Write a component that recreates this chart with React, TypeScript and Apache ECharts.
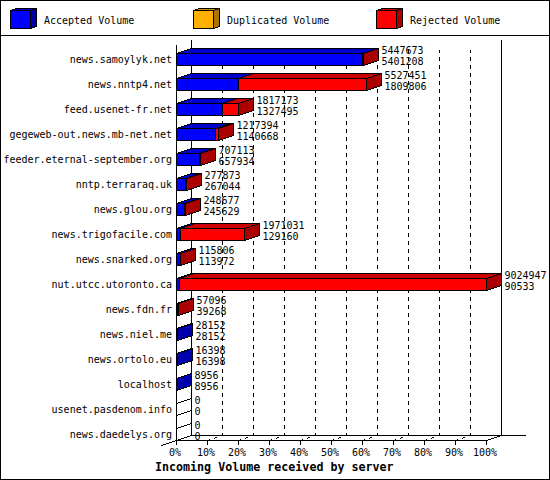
import React, { useEffect, useRef } from "react";
import * as echarts from "echarts";

const servers = [
  "news.samoylyk.net", "news.nntp4.net", "feed.usenet-fr.net", "gegeweb-out.news.mb-net.net",
  "feeder.eternal-september.org", "nntp.terraraq.uk", "news.glou.org", "news.trigofacile.com",
  "news.snarked.org", "nut.utcc.utoronto.ca", "news.fdn.fr", "news.niel.me",
  "news.ortolo.eu", "localhost", "usenet.pasdenom.info", "news.daedelys.org",
];
const totalVolume = [5447673, 5527451, 1817173, 1217394, 707113, 277873, 248677, 1971031, 115806, 9024947, 57096, 28152, 16398, 8956, 0, 0];
const acceptedVolume = [5401208, 1809806, 1327495, 1140668, 657934, 267044, 245629, 129160, 113972, 90533, 39268, 28152, 16398, 8956, 0, 0];
const legendNames = ["Accepted Volume", "Duplicated Volume", "Rejected Volume"];
const percentTicks = [0, 10, 20, 30, 40, 50, 60, 70, 80, 90, 100];
const chartTitle = "Incoming Volume received by server";

const FONT = "'DejaVu Sans Mono', monospace";
const BLUE = { front: "#0000ff", top: "#0000cc", side: "#0000aa" };
const RED = { front: "#ff0000", top: "#cc0000", side: "#aa0000" };
const ORANGE = { front: "#ffb000", top: "#cc8c00", side: "#aa7500" };
const DX = 15;
const DY = 5;
const HALF = 6;
const line = { stroke: "#000", lineWidth: 1 };

function renderBar(_params: any, api: any) {
  const i = api.value(2);
  const x0 = Math.round(api.coord([0, i])[0]) + 0.5;
  const cy = api.coord([0, i])[1] + 2;
  const top = Math.floor(cy - HALF) + 0.5;
  const bottom = top + 12;
  const xa = Math.round(api.coord([api.value(0), i])[0]) + 0.5;
  const xt = Math.round(api.coord([api.value(1), i])[0]) + 0.5;
  const total = api.value(4);
  const acc = api.value(3);
  const sideColor = total > acc ? RED : BLUE;
  const children: any[] = [];
  const poly = (points: number[][], fill: string) => ({
    type: "polygon",
    shape: { points },
    style: { fill, ...line },
  });
  if (total > 0) {
    if (xa > x0) {
      children.push(poly([[x0, top], [x0 + DX, top - DY], [xa + DX, top - DY], [xa, top]], BLUE.top));
      children.push(poly([[x0, top], [xa, top], [xa, bottom], [x0, bottom]], BLUE.front));
    }
    if (xt > xa) {
      children.push(poly([[xa, top], [xa + DX, top - DY], [xt + DX, top - DY], [xt, top]], RED.top));
      children.push(poly([[xa, top], [xt, top], [xt, bottom], [xa, bottom]], RED.front));
    }
    children.push(poly([[xt, top], [xt + DX, top - DY], [xt + DX, bottom - DY], [xt, bottom]], sideColor.side));
  } else {
    children.push({ type: "line", shape: { x1: x0, y1: top, x2: x0 + DX, y2: top - DY }, style: line });
    children.push({ type: "line", shape: { x1: x0, y1: bottom, x2: x0 + DX, y2: bottom - DY }, style: line });
  }
  const label = (value: number, y: number) => ({
    type: "text",
    style: {
      x: xt + DX + 3,
      y,
      text: String(value),
      fill: "#000",
      font: `10px ${FONT}`,
      align: "left",
      verticalAlign: "middle",
    },
  });
  children.push(label(total, top + 6 - 9.5));
  children.push(label(acc, top + 6 + 1.5));
  return { type: "group", children };
}

function cube(x: number, y: number, c: { front: string; top: string; side: string }) {
  const w = 20;
  const h = 18;
  const d = 6;
  const e = 2;
  return [
    { type: "polygon", shape: { points: [[x, y], [x + d, y - e], [x + w + d, y - e], [x + w, y]] }, style: { fill: c.top, ...line } },
    { type: "polygon", shape: { points: [[x + w, y], [x + w + d, y - e], [x + w + d, y + h - e], [x + w, y + h]] }, style: { fill: c.side, ...line } },
    { type: "rect", shape: { x, y, width: w, height: h }, style: { fill: c.front, ...line } },
  ];
}

function frameGraphics() {
  const g: any[] = [];
  g.push({ type: "rect", shape: { x: 0.5, y: 0.5, width: 549, height: 479 }, style: { fill: "none", ...line }, z: 0 });
  g.push({ type: "line", shape: { x1: 0, y1: 35.5, x2: 550, y2: 35.5 }, style: line });
  const legendX = [10.5, 193.5, 376.5];
  const textX = [44, 227, 410];
  const colors = [BLUE, ORANGE, RED];
  legendNames.forEach((name, k) => {
    g.push(...cube(legendX[k], 10.5, colors[k]));
    g.push({
      type: "text",
      style: { x: textX[k], y: 20, text: name, fill: "#000", font: `10px ${FONT}`, verticalAlign: "middle", align: "left" },
    });
  });
  g.push({ type: "line", shape: { x1: 191.5, y1: 40, x2: 191.5, y2: 436 }, style: line });
  g.push({ type: "line", shape: { x1: 501.5, y1: 40, x2: 501.5, y2: 436 }, style: line });
  g.push({ type: "line", shape: { x1: 191.5, y1: 435.5, x2: 525.5, y2: 435.5 }, style: line });
  g.push({ type: "line", shape: { x1: 161.5, y1: 445.5, x2: 191.5, y2: 435.5 }, style: line });
  g.push({ type: "line", shape: { x1: 486.5, y1: 440.5, x2: 501.5, y2: 435.5 }, style: line });
  percentTicks.slice(1, 10).forEach((p) => {
    const x = 176.5 + p * 3.1;
    g.push({
      type: "line",
      shape: { x1: x, y1: 440.5, x2: x + DX, y2: 435.5 },
      style: { ...line, lineDash: [3, 4, 3, 10] },
    });
  });
  return g;
}

export default function App() {
  const ref = useRef<HTMLDivElement>(null);
  useEffect(() => {
    const chart = echarts.init(ref.current!, undefined, { renderer: "svg", width: 550, height: 480 });
    const maxVolume = Math.max(...totalVolume);
    const rows = servers.map((_, i) => [
      (acceptedVolume[i] / maxVolume) * 100,
      (totalVolume[i] / maxVolume) * 100,
      i,
      acceptedVolume[i],
      totalVolume[i],
    ]);
    chart.setOption({
      animation: false,
      backgroundColor: "#fff",
      title: {
        text: chartTitle,
        left: 155,
        top: 461,
        padding: 0,
        textStyle: { fontFamily: FONT, fontWeight: "bold", fontSize: 11.66, color: "#000" },
      },
      grid: [
        { left: 176, top: 45, width: 310, height: 400 },
        { left: 191, top: 50, width: 310, height: 385.5 },
      ],
      xAxis: [
        {
          type: "value",
          gridIndex: 0,
          min: 0,
          max: 100,
          interval: 10,
          offset: -5,
          axisLine: { show: true, onZero: false, lineStyle: { color: "#000", width: 1 } },
          axisTick: { show: true, length: 5, lineStyle: { color: "#000", width: 1 } },
          axisLabel: {
            color: "#000",
            fontFamily: FONT,
            fontSize: 10,
            margin: 7,
            hideOverlap: false,
            padding: [0, 2, 0, 0],
            formatter: (v: number) => `${v}%`,
          },
          splitLine: { show: false },
        },
        {
          type: "value",
          gridIndex: 1,
          min: 0,
          max: 100,
          interval: 10,
          axisLine: { show: false },
          axisTick: { show: false },
          axisLabel: { show: false },
          splitLine: {
            show: true,
            showMinLine: false,
            showMaxLine: false,
            lineStyle: { color: "#000", width: 1, type: [4, 4], dashOffset: 1 },
          },
        },
      ],
      yAxis: [
        {
          type: "category",
          gridIndex: 0,
          data: servers,
          inverse: true,
          axisLine: { show: true, onZero: false, lineStyle: { color: "#000", width: 1 } },
          axisTick: { show: false },
          axisLabel: {
            color: "#000",
            fontFamily: FONT,
            fontSize: 10,
            margin: 4,
            interval: 0,
            verticalAlign: "top",
            lineHeight: 4,
          },
          splitLine: { show: false },
        },
        {
          type: "value",
          gridIndex: 1,
          min: 0,
          max: 1,
          axisLine: { show: false },
          axisTick: { show: false },
          axisLabel: { show: false },
          splitLine: { show: false },
        },
      ],
      graphic: { elements: frameGraphics() },
      series: [
        {
          type: "custom",
          xAxisIndex: 0,
          yAxisIndex: 0,
          data: rows,
          encode: { x: [0, 1], y: 2 },
          renderItem: renderBar,
          clip: false,
          z: 5,
        },
      ],
    });
    return () => chart.dispose();
  }, []);
  return (
    <div
      ref={ref}
      style={{ position: "absolute", left: 0, top: 0, width: 550, height: 480, shapeRendering: "crispEdges" }}
    />
  );
}
